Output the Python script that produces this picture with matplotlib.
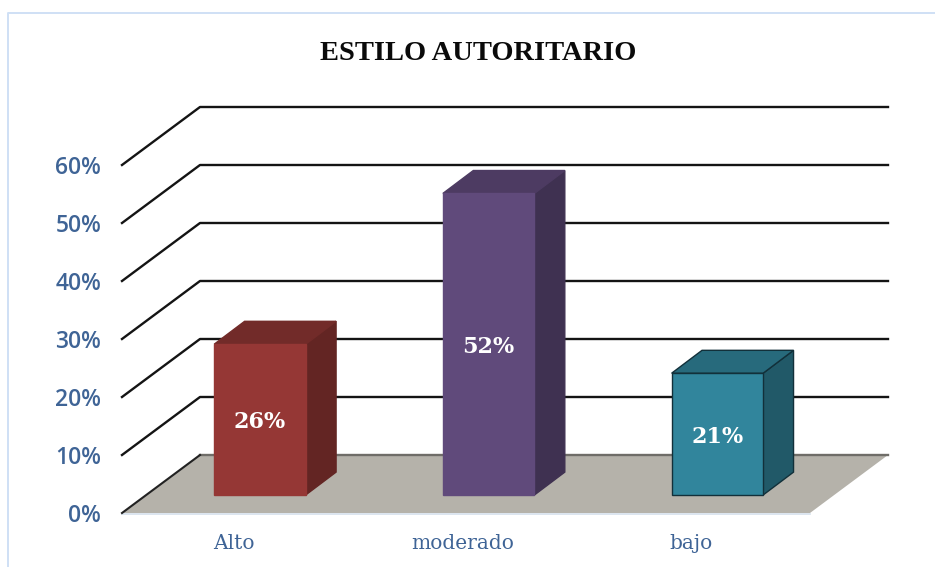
import matplotlib
matplotlib.use("Agg")
import matplotlib.pyplot as plt
from matplotlib.lines import Line2D

W, H = 935, 567

categorias = ["Alto", "moderado", "bajo"]
valores = [26, 52, 21]
rotulos = ["26%", "52%", "21%"]
marcas_y = [0, 10, 20, 30, 40, 50, 60]
rotulos_y = ["0%", "10%", "20%", "30%", "40%", "50%", "60%"]

cor_frente = ["#953735", "#604a7b", "#31859c"]
cor_topo = ["#722b29", "#4d3b62", "#276a7c"]
cor_lado = ["#632523", "#3f3151", "#215968"]
# so a barra azul tem contorno escuro
borda_frente = ["#953735", "#604a7b", "#12303a"]
borda_topo = ["#722b29", "#4d3b62", "#12303a"]
borda_lado = ["#632523", "#3f3151", "#12303a"]

azul = "#3f6496"

# profundidade da parede e da barra, em unidades dos eixos
fundo_x, fundo_y = 0.341, 10
prof_x, prof_y = 0.133, 3.95
base_barra = 3.1
largura = 0.4
x_min, x_max = -0.603, 2.405

fig = plt.figure(figsize=(W / 100, H / 100), dpi=100)
ax = fig.add_axes([122 / W, 1 - 513 / H, (810 - 122) / W, (513 - 165) / H])
ax.set_xlim(x_min, x_max)
ax.set_ylim(0, 60)
ax.patch.set_visible(False)
for lado in ax.spines.values():
    lado.set_visible(False)

# chao
ax.fill([x_min, x_max, x_max + fundo_x, x_min + fundo_x],
        [0, 0, fundo_y, fundo_y], color="#b5b2aa", lw=0, clip_on=False, zorder=1)
ax.plot([x_min, x_max], [-0.15, -0.15], color="#d5e0ec", lw=1.2, clip_on=False, zorder=1)
ax.plot([x_min + fundo_x, x_max + fundo_x], [fundo_y, fundo_y],
        color="#6f6d68", lw=1.7, clip_on=False, zorder=2)
ax.plot([x_min, x_min + fundo_x], [0, fundo_y], color="#222222", lw=1.5,
        clip_on=False, zorder=2)

# grade
for m in marcas_y[1:]:
    ax.plot([x_min, x_min + fundo_x, x_max + fundo_x], [m, m + fundo_y, m + fundo_y],
            color="#141414", lw=1.7, clip_on=False, zorder=2)

# barras
for i, v in enumerate(valores):
    x0 = i - largura / 2
    x1 = i + largura / 2
    y0 = base_barra
    y1 = base_barra + v
    ax.fill([x1, x1 + prof_x, x1 + prof_x, x1],
            [y0, y0 + prof_y, y1 + prof_y, y1],
            facecolor=cor_lado[i], edgecolor=borda_lado[i], lw=1, clip_on=False, zorder=3)
    ax.fill([x0, x1, x1 + prof_x, x0 + prof_x],
            [y1, y1, y1 + prof_y, y1 + prof_y],
            facecolor=cor_topo[i], edgecolor=borda_topo[i], lw=1, clip_on=False, zorder=3)
    ax.bar(i, v, largura, bottom=y0, color=cor_frente[i], edgecolor=borda_frente[i],
           lw=1, clip_on=False, zorder=4)
    ax.text(i, y0 + v / 2 - 0.45, rotulos[i], color="white", fontsize=16, weight="bold",
            family="DejaVu Serif", ha="center", va="center", zorder=5)

ax.set_yticks(marcas_y, rotulos_y, color=azul, fontsize=16.5, family="Open Sans", weight="semibold")
ax.tick_params(axis="y", length=0, pad=15)

# rotulos das categorias ficam deslocados para a esquerda das barras
ax.set_xticks([i - 0.115 for i in range(len(categorias))], categorias,
              color=azul, fontsize=14.5, family="DejaVu Serif")
ax.tick_params(axis="x", length=0, pad=15)

fig.text(478 / W, 1 - 53 / H, "ESTILO AUTORITARIO", color="#0a0a0a", fontsize=20.5,
         weight="bold", family="Liberation Serif", ha="center", va="center")

# moldura
fig.add_artist(Line2D([7.5 / W, 7.5 / W, 1], [0, 1 - 12.5 / H, 1 - 12.5 / H],
                      color="#cfe0f5", lw=1.4))

fig.savefig("out.png", dpi=100)
